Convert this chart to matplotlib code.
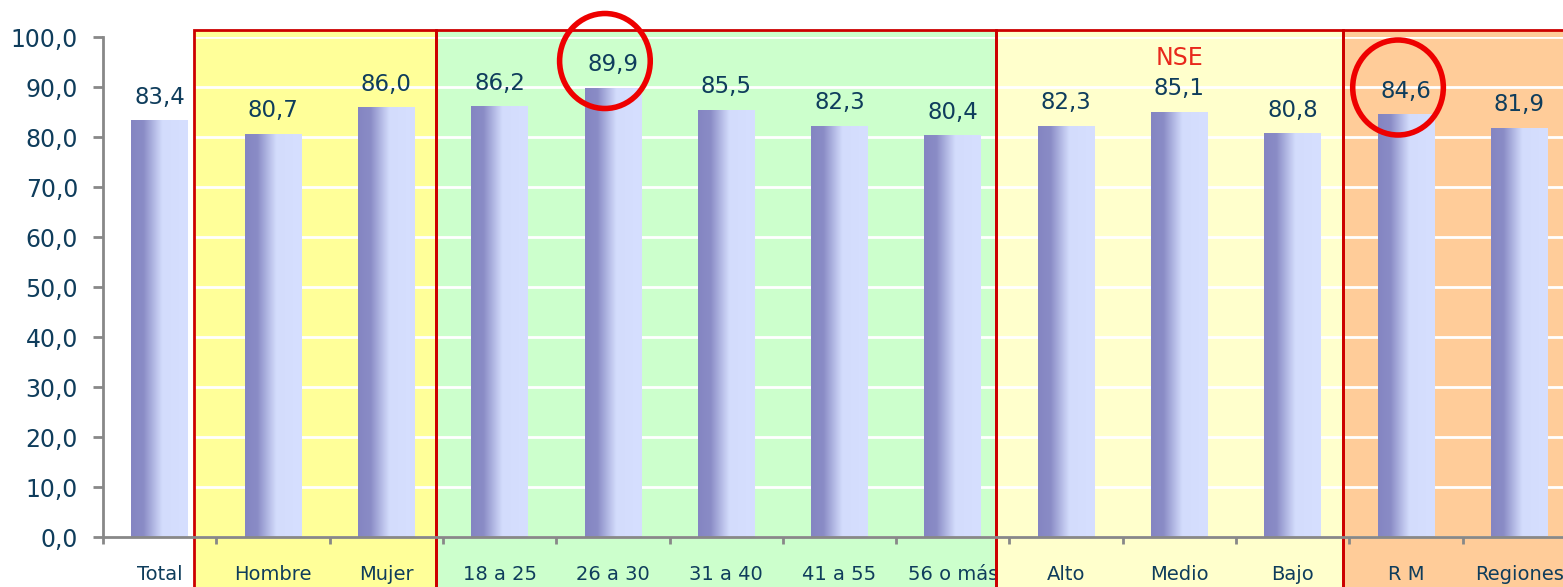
import numpy as np
import matplotlib.pyplot as plt
from matplotlib.colors import LinearSegmentedColormap
from matplotlib.patches import Rectangle, Ellipse

categories = ['Total', 'Hombre', 'Mujer', '18 a 25', '26 a 30', '31 a 40', '41 a 55',
              '56 o más', 'Alto', 'Medio', 'Bajo', 'R M', 'Regiones']
values = [83.4, 80.7, 86.0, 86.2, 89.9, 85.5, 82.3, 80.4, 82.3, 85.1, 80.8, 84.6, 81.9]
highlighted = ['26 a 30', 'R M']
group_label = 'NSE'

# background bands (x span in category units, fill colour)
bands = [(0.30, 2.44, '#FFFF99'), (2.44, 7.38, '#CCFFCC'),
         (7.38, 10.44, '#FFFFCC'), (10.44, 13.0, '#FFCC99')]

txt = '#0F3D5C'
cmap = LinearSegmentedColormap.from_list(
    'bar', [(0, '#8485C2'), (0.22, '#8A8CC6'), (0.55, '#D3DCFC'), (1, '#D6DFFF')])

fig = plt.figure(figsize=(15.63, 5.87), dpi=100)
ax = fig.add_axes([103/1563, 50/587, 13*113.3/1563, 500/587])

x = np.arange(len(categories))
ax.set_xlim(-0.5, 12.5)
ax.set_ylim(0, 100)

for x0, x1, c in bands:
    ax.add_patch(Rectangle((x0, -12), x1 - x0, 113.4, facecolor=c, edgecolor='none',
                           zorder=0, clip_on=False))
    ax.add_patch(Rectangle((x0, -12), x1 - x0, 113.4, fill=False, edgecolor='#CC0000',
                           lw=2, zorder=1, clip_on=False))

ax.set_axisbelow(True)
ax.yaxis.grid(True, color='white', lw=2)

bars = ax.bar(x, values, width=0.5, color='none', zorder=2)
grad = np.linspace(0, 1, 256).reshape(1, -1)
for b in bars:
    im = ax.imshow(grad, cmap=cmap, aspect='auto', zorder=2,
                   extent=[b.get_x(), b.get_x() + b.get_width(), 0, b.get_height()])
    im.set_clip_path(b)

for xi, v in zip(x, values):
    ax.text(xi, v + 3.2, f'{v:.1f}'.replace('.', ','), ha='center', va='baseline',
            fontsize=16.5, color=txt, zorder=4)

for name in highlighted:
    i = categories.index(name)
    ax.add_patch(Ellipse((i - 0.07, values[i] + 5.3), 0.8, 19, fill=False,
                         edgecolor='#EE0000', lw=4, zorder=5, clip_on=False))

ax.text(9, 95.8, group_label, ha='center', va='center', fontsize=17, color='#E8281C', zorder=4)

ax.set_xlim(-0.5, 12.5)
ax.set_ylim(0, 100)
ax.set_yticks(np.arange(0, 101, 10))
ax.set_yticklabels([f'{t:.1f}'.replace('.', ',') for t in np.arange(0, 101, 10)])
ax.set_xticks(x)
ax.set_xticklabels(categories)
ax.set_xticks(np.arange(-0.5, 13, 1), minor=True)
ax.tick_params(axis='x', which='major', length=0, pad=20, labelsize=14, labelcolor=txt)
ax.tick_params(axis='x', which='minor', length=5, width=2, color='#888888')
ax.tick_params(axis='y', length=7, width=2, color='#888888', pad=11, labelsize=17,
               labelcolor=txt)

for s in ['top', 'right']:
    ax.spines[s].set_visible(False)
for s in ['left', 'bottom']:
    ax.spines[s].set_color('#888888')
    ax.spines[s].set_linewidth(2)
    ax.spines[s].set_zorder(3)

fig.savefig('out.png', dpi=100)
